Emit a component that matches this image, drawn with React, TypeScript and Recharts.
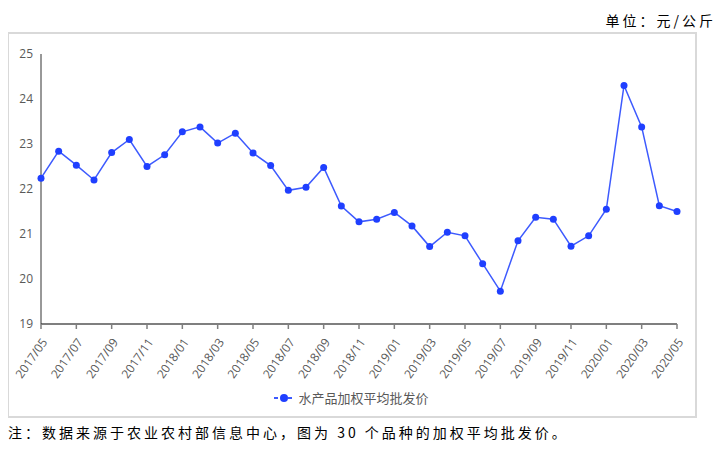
import { LineChart, Line, XAxis, YAxis, Legend } from 'recharts';

// 水产品加权平均批发价（元/公斤），2017/05 – 2020/05 月度

const months = [
  '2017/05', '2017/06', '2017/07', '2017/08', '2017/09', '2017/10', '2017/11', '2017/12',
  '2018/01', '2018/02', '2018/03', '2018/04', '2018/05', '2018/06', '2018/07', '2018/08',
  '2018/09', '2018/10', '2018/11', '2018/12', '2019/01', '2019/02', '2019/03', '2019/04',
  '2019/05', '2019/06', '2019/07', '2019/08', '2019/09', '2019/10', '2019/11', '2019/12',
  '2020/01', '2020/02', '2020/03', '2020/04', '2020/05',
];

const prices = [
  22.24, 22.84, 22.53, 22.2, 22.81, 23.1, 22.5, 22.76,
  23.27, 23.38, 23.02, 23.24, 22.8, 22.52, 21.97, 22.04,
  22.48, 21.62, 21.27, 21.33, 21.48, 21.18, 20.72, 21.04,
  20.96, 20.34, 19.73, 20.85, 21.37, 21.33, 20.73, 20.96,
  21.55, 24.3, 23.38, 21.63, 21.5,
];

const yTicks = [19, 20, 21, 22, 23, 24, 25];

const seriesName = '水产品加权平均批发价';

const data = months.map((m, i) => ({ month: m, price: prices[i] }));

const axisFont = '"Open Sans", "Noto Sans CJK SC", sans-serif';
const noteFont = '"Noto Sans CJK SC", sans-serif';

function XTick({ x, y, payload }: any) {
  const tx = x + 7;
  const ty = y + 11;
  return (
    <text
      x={tx}
      y={ty}
      transform={`rotate(-55 ${tx} ${ty})`}
      textAnchor="end"
      fontSize={12}
      fontFamily={axisFont}
      fill="#595959"
    >
      {payload.value}
    </text>
  );
}

function LegendBox() {
  return (
    <div
      style={{
        height: 32,
        display: 'flex',
        justifyContent: 'center',
        alignItems: 'flex-start',
        paddingLeft: 18,
        fontFamily: axisFont,
        fontSize: 13,
        color: '#595959',
        lineHeight: '24px',
      }}
    >
      <svg width={22} height={24} style={{ marginRight: 3 }}>
        <line x1={1} y1={12} x2={21} y2={12} stroke="#3d5afe" strokeWidth={2} strokeDasharray="4 3" />
        <circle cx={11} cy={12} r={4} fill="#1f3fff" />
      </svg>
      <span>{seriesName}</span>
    </div>
  );
}

export default function App() {
  return (
    <div style={{ position: 'relative', width: 723, height: 450, margin: -8, background: '#fff' }}>
      <div
        style={{
          position: 'absolute',
          right: 7,
          top: 10,
          lineHeight: '20px',
          fontSize: 14,
          letterSpacing: 3,
          fontFamily: noteFont,
          color: '#000',
        }}
      >
        单位：元/公斤
      </div>

      <div
        style={{
          position: 'absolute',
          left: 7,
          top: 32,
          width: 690,
          height: 386,
          boxSizing: 'border-box',
          border: '2px solid #d9d9d9',
        }}
      />

      <div style={{ position: 'absolute', left: 7, top: 32 }}>
        <LineChart width={690} height={386} data={data} margin={{ top: 22, right: 20, left: 0, bottom: 0 }}>
          <XAxis
            dataKey="month"
            interval={1}
            height={62}
            tick={<XTick />}
            tickSize={5}
            tickLine={{ stroke: '#7f7f7f', strokeWidth: 1.5 }}
            axisLine={{ stroke: '#7f7f7f', strokeWidth: 2 }}
            padding={{ left: 0, right: 0 }}
          />
          <YAxis
            width={34}
            domain={[19, 25]}
            ticks={yTicks}
            tickSize={0}
            tickMargin={8}
            tickLine={false}
            axisLine={{ stroke: '#333333', strokeWidth: 1 }}
            tick={{ fontSize: 12, fill: '#595959', fontFamily: axisFont }}
          />
          <Legend verticalAlign="bottom" height={32} content={<LegendBox />} />
          <Line
            type="linear"
            dataKey="price"
            name={seriesName}
            stroke="#3d5afe"
            strokeWidth={1.5}
            dot={{ r: 3.5, fill: '#1f3fff', stroke: 'none' }}
            isAnimationActive={false}
          />
        </LineChart>
      </div>

      <div
        style={{
          position: 'absolute',
          left: 8,
          top: 422,
          lineHeight: '20px',
          fontSize: 14,
          letterSpacing: 3,
          fontFamily: noteFont,
          color: '#000',
          whiteSpace: 'nowrap',
        }}
      >
        注：数据来源于农业农村部信息中心，图为 30 个品种的加权平均批发价。
      </div>
    </div>
  );
}
